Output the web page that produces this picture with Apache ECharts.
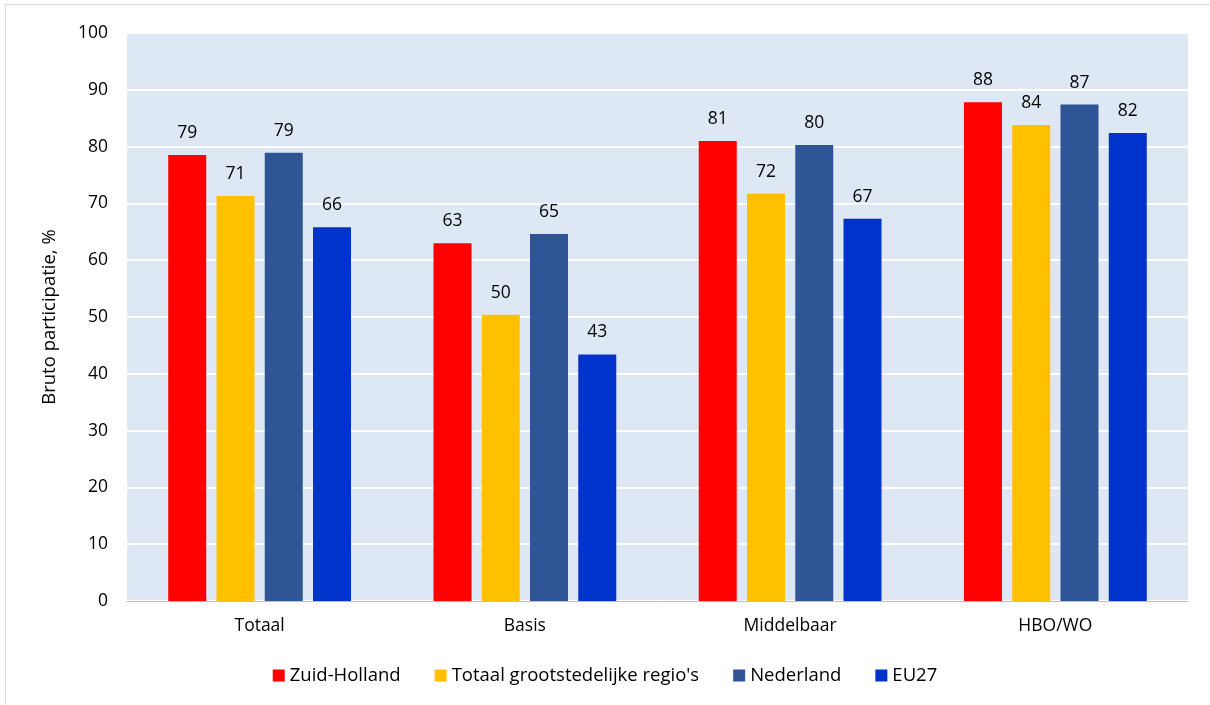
<!DOCTYPE html>
<html><head><meta charset="utf-8">
<script src="https://cdn.jsdelivr.net/npm/echarts@6/dist/echarts.min.js"></script>
<style>html,body{margin:0;padding:0;background:#fff;}#c{width:1210px;height:705px;position:relative;}
#frame{position:absolute;left:5px;top:4px;right:-2px;bottom:-2px;border:1px solid #d9d9d9;pointer-events:none;}</style>
</head><body><div id="c"></div><div id="frame"></div>
<script>
const categories = ['Totaal', 'Basis', 'Middelbaar', 'HBO/WO'];
const seriesNames = ['Zuid-Holland', "Totaal grootstedelijke regio's", 'Nederland', 'EU27'];
const zuidHolland = [78.5, 63.0, 81.0, 87.8];
const grootstedelijk = [71.3, 50.4, 71.7, 83.8];
const nederland = [78.9, 64.6, 80.3, 87.4];
const eu27 = [65.8, 43.4, 67.3, 82.4];
const colors = ['#FF0000', '#FFC000', '#2F5597', '#0033CC'];
const yTicks = [0, 10, 20, 30, 40, 50, 60, 70, 80, 90, 100];

const font = "'Open Sans', 'Noto Sans', sans-serif";
const values = [zuidHolland, grootstedelijk, nederland, eu27];
const chart = echarts.init(document.getElementById('c'));
chart.setOption({
  animation: false,
  backgroundColor: '#ffffff',
  color: colors,
  grid: { left: 127, right: 22, top: 33, bottom: 104, show: true, backgroundColor: '#DEE8F4', borderWidth: 0 },
  legend: {
    bottom: 15, left: 'center', itemWidth: 12, itemHeight: 12, itemGap: 34, icon: 'rect',
    textStyle: { fontFamily: font, fontSize: 18.5, color: '#000' },
    data: seriesNames
  },
  xAxis: {
    type: 'category', data: categories,
    axisLine: { lineStyle: { color: '#BFBFBF', width: 1 } },
    axisTick: { show: false },
    axisLabel: { fontFamily: font, fontSize: 17.5, color: '#000', margin: 16 }
  },
  yAxis: {
    type: 'value', min: yTicks[0], max: yTicks[yTicks.length - 1], interval: 10,
    name: 'Bruto participatie, %', nameLocation: 'middle', nameGap: 68,
    nameTextStyle: { fontFamily: font, fontSize: 18.5, color: '#000' },
    axisLine: { show: false }, axisTick: { show: false },
    axisLabel: { fontFamily: font, fontSize: 17.5, color: '#000', margin: 19 },
    splitLine: { lineStyle: { color: '#ffffff', width: 2 } }
  },
  series: seriesNames.map((n, i) => ({
    name: n, type: 'bar', data: values[i], barWidth: 38, barGap: '27%',
    itemStyle: { color: colors[i] },
    label: { show: true, position: 'top', distance: 13, fontFamily: font, fontSize: 17.5, color: '#000',
      formatter: p => Math.round(p.value) }
  }))
});
</script></body></html>
